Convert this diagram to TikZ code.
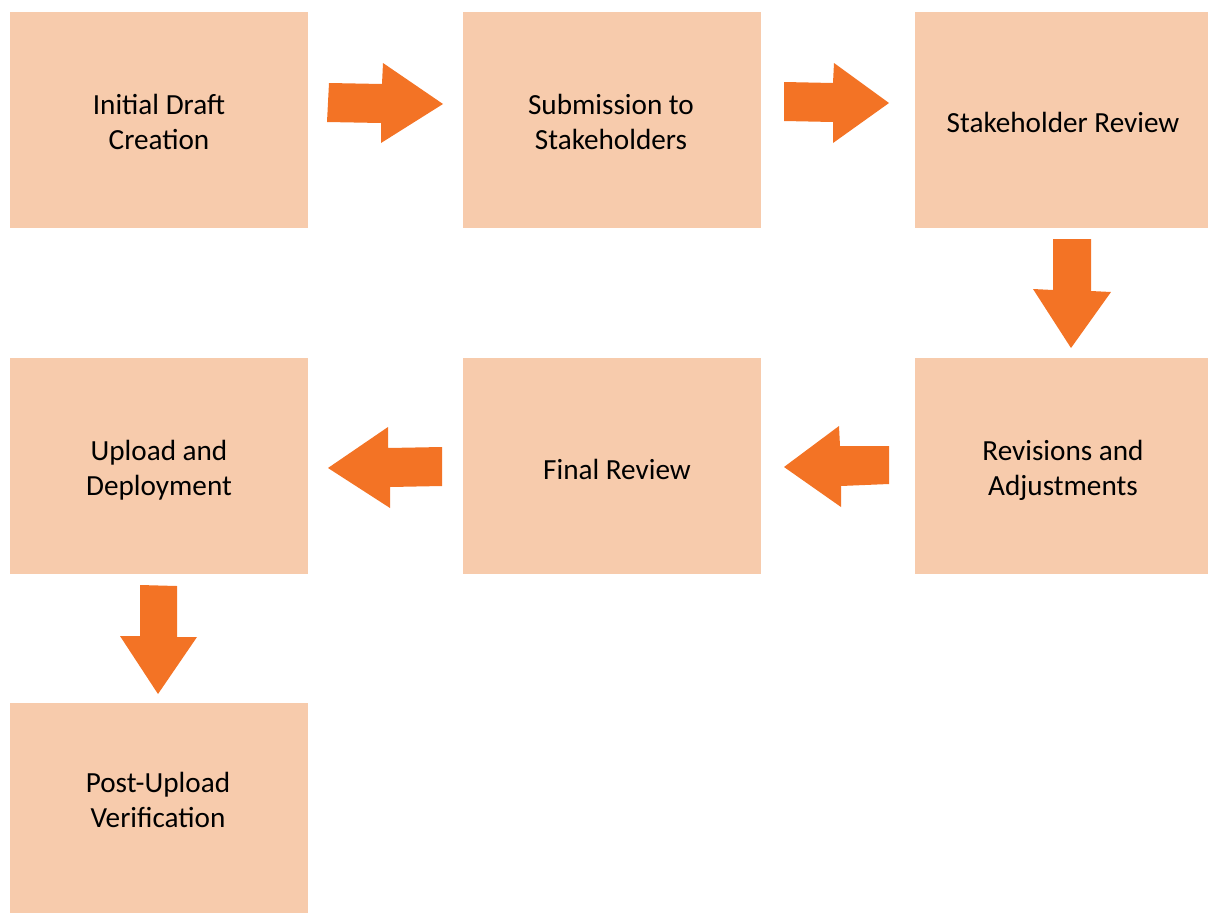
\documentclass[tikz,border=0pt]{standalone}
\usepackage{fontspec}
\setmainfont{Carlito}
\definecolor{boxfill}{HTML}{F7CBAC}
\definecolor{arrowfill}{HTML}{F37325}
\begin{document}
\begin{tikzpicture}[x=1pt,y=-1pt,
  stagebox/.style={fill=boxfill, draw=none, inner sep=0pt, anchor=north west},
  stagetext/.style={align=center, font=\fontsize{29.2}{35}\selectfont, text=black, inner sep=0pt},
  blockarrow/.style={fill=arrowfill, draw=none}]
\useasboundingbox (0,0) rectangle (1208,913);

% stage boxes
\node[stagebox, minimum width=298pt, minimum height=216pt] (b1) at (10,12) {};
\node[stagebox, minimum width=298pt, minimum height=216pt] (b2) at (463,12) {};
\node[stagebox, minimum width=293pt, minimum height=216pt] (b3) at (915,12) {};
\node[stagebox, minimum width=293pt, minimum height=216pt] (b4) at (915,358) {};
\node[stagebox, minimum width=298pt, minimum height=216pt] (b5) at (463,358) {};
\node[stagebox, minimum width=298pt, minimum height=216pt] (b6) at (10,358) {};
\node[stagebox, minimum width=298pt, minimum height=210pt] (b7) at (10,703) {};

% stage labels
\node[stagetext] (t1) at (159,122) {Initial Draft\\Creation};
\node[stagetext] (t2) at (611,122) {Submission to\\Stakeholders};
\node[stagetext] (t3) at (1063,122) {Stakeholder Review};
\node[stagetext] (t4) at (1063,470) {Revisions and\\Adjustments};
\node[stagetext] (t5) at (617,469) {Final Review};
\node[stagetext] (t6) at (159,470) {Upload and\\Deployment};
\node[stagetext] (t7) at (158,800) {Post-Upload\\Verification};

% block arrows between stages
\fill[blockarrow] (329,83) -- (382,84) -- (383,63) -- (443,104) -- (381,143) -- (381,123) -- (327,122) -- cycle;
\fill[blockarrow] (784,82) -- (833,83) -- (834,63) -- (889,103) -- (833,143) -- (833,122) -- (784,121) -- cycle;
\fill[blockarrow] (1053,239) -- (1091,239) -- (1091,291) -- (1111,292) -- (1071,348) -- (1033,289) -- (1053,290) -- cycle;
\fill[blockarrow] (889,446) -- (840,446) -- (839,426) -- (784,467) -- (841,507) -- (841,486) -- (889,484) -- cycle;
\fill[blockarrow] (442,447) -- (388,448) -- (388,427) -- (328,468) -- (390,508) -- (390,487) -- (442,486) -- cycle;
\fill[blockarrow] (140,585) -- (177,586) -- (177,637) -- (197,637) -- (158,694) -- (120,636) -- (140,636) -- cycle;
\end{tikzpicture}
\end{document}
